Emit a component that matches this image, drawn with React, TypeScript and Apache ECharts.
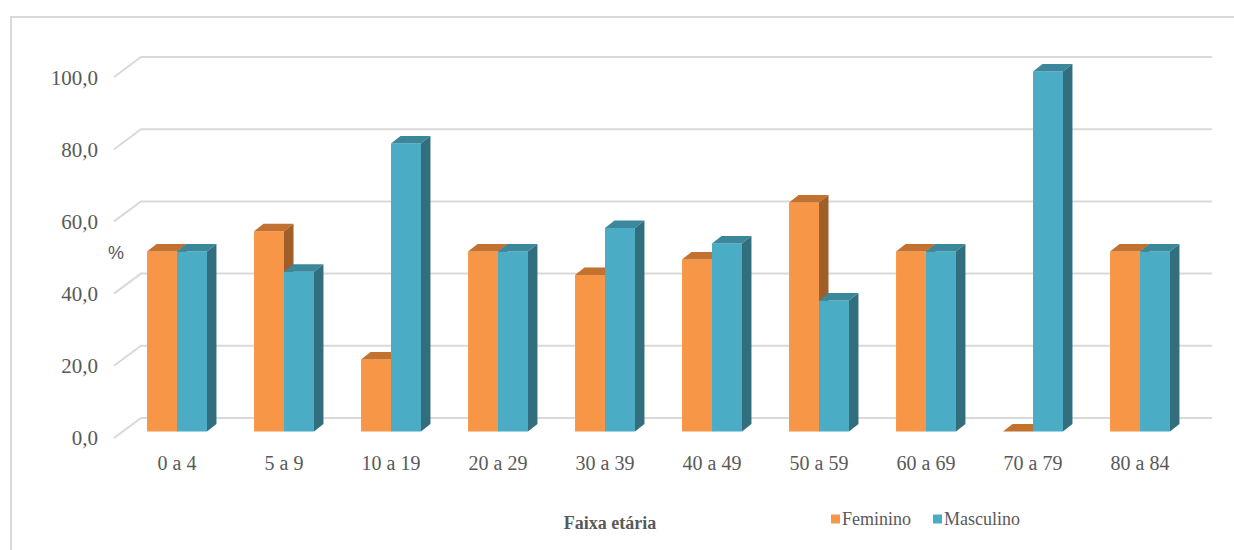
import React, { useEffect, useRef } from "react";
import * as echarts from "echarts";

const categories = ["0 a 4", "5 a 9", "10 a 19", "20 a 29", "30 a 39", "40 a 49", "50 a 59", "60 a 69", "70 a 79", "80 a 84"];
const feminino = [50, 55.6, 20, 50, 43.5, 47.8, 63.6, 50, 0, 50];
const masculino = [50, 44.4, 80, 50, 56.5, 52.2, 36.4, 50, 100, 50];
const yTicks = [0, 20, 40, 60, 80, 100];

const FONT = "'Liberation Serif', 'Times New Roman', serif";
const TEXT = "#595959";
const GRID_LINE = "#D9D9D9";

function makeBar(left: boolean, front: string, top: string, sideC: string) {
  return (params: any, api: any) => {
    const idx = api.value(0);
    const v = api.value(1);
    const pTop = api.coord([idx, v]);
    const p0 = api.coord([idx, 0]);
    const bw = api.size([1, 0])[0] * 0.28;
    const cx = pTop[0];
    const yTop = pTop[1];
    const y0 = p0[1];
    const x0 = left ? cx - bw : cx;
    const x1 = x0 + bw;
    const dx = 9.5;
    const dy = 7.5;
    return {
      type: "group",
      children: [
        { type: "polygon", shape: { points: [[x0, yTop], [x1, yTop], [x1, y0], [x0, y0]] }, style: { fill: front } },
        { type: "polygon", shape: { points: [[x0, yTop], [x0 + dx, yTop - dy], [x1 + dx, yTop - dy], [x1, yTop]] }, style: { fill: top } },
        { type: "polygon", shape: { points: [[x1, yTop], [x1 + dx, yTop - dy], [x1 + dx, y0 - dy], [x1, y0]] }, style: { fill: sideC } },
      ],
    };
  };
}

export default function App() {
  const ref = useRef<HTMLDivElement>(null);
  useEffect(() => {
    if (!ref.current) return;
    const chart = echarts.init(ref.current, undefined, { renderer: "svg" });
    const option: any = {
      animation: false,
      backgroundColor: "#ffffff",
      textStyle: { fontFamily: FONT, color: TEXT },
      grid: [
        // bar front plane
        { left: 123.5, top: 71.5, width: 1070, height: 360 },
        // back wall (gridlines)
        { left: 141, top: 57, width: 1071, height: 361 },
        // front floor edge (value labels)
        { left: 114, top: 78, width: 1070, height: 360 },
      ],
      xAxis: [
        {
          gridIndex: 0,
          type: "category",
          data: categories,
          axisLine: { show: false },
          axisTick: { show: false },
          axisLabel: { fontFamily: FONT, fontSize: 20, color: TEXT, margin: 21 },
        },
        { gridIndex: 1, type: "value", min: 0, max: 1, show: false },
        { gridIndex: 2, type: "value", min: 0, max: 1, show: false },
      ],
      yAxis: [
        { gridIndex: 0, type: "value", min: 0, max: 100, show: false },
        { gridIndex: 1, type: "value", min: 0, max: 100, interval: 20, show: false },
        {
          gridIndex: 2,
          type: "value",
          min: 0,
          max: 100,
          interval: 20,
          axisLine: { show: false },
          axisTick: { show: false },
          splitLine: { show: false },
          axisLabel: {
            fontFamily: FONT,
            fontSize: 21,
            color: TEXT,
            margin: 16,
            formatter: (v: number) => v.toFixed(1).replace(".", ","),
          },
        },
      ],
      legend: {
        left: 826,
        top: 505,
        icon: "rect",
        itemWidth: 9,
        itemHeight: 9,
        itemGap: 22,
        textStyle: { fontFamily: FONT, fontSize: 18, color: TEXT, padding: [0, 0, 0, -3] },
        data: ["Feminino", "Masculino"],
      },
      graphic: [
        {
          type: "rect",
          z: -10,
          shape: { x: 11, y: 17, width: 1400, height: 700 },
          style: { fill: "none", stroke: GRID_LINE, lineWidth: 2 },
        },
        {
          type: "text",
          x: 610,
          y: 523,
          style: {
            text: "Faixa etária",
            fontFamily: FONT,
            fontSize: 18,
            fontWeight: "bold",
            fill: TEXT,
            align: "center",
            verticalAlign: "middle",
          },
        },
        {
          type: "text",
          x: 116,
          y: 253,
          style: {
            text: "%",
            fontFamily: "'Liberation Sans', Arial, sans-serif",
            fontSize: 18,
            fill: TEXT,
            align: "center",
            verticalAlign: "middle",
          },
        },
      ],
      series: [
        {
          type: "custom",
          name: "gridlines",
          xAxisIndex: 1,
          yAxisIndex: 1,
          z: 1,
          silent: true,
          data: yTicks.map((t) => [0, t]),
          renderItem: (params: any, api: any) => {
            const v = api.value(1);
            const a = api.coord([0, v]);
            const b = api.coord([1, v]);
            return {
              type: "polyline",
              shape: { points: [[a[0] - 27, a[1] + 20], [a[0], a[1]], [b[0], b[1]]] },
              style: { stroke: GRID_LINE, lineWidth: 2, fill: "none" },
            };
          },
        },
        {
          type: "custom",
          name: "Feminino",
          xAxisIndex: 0,
          yAxisIndex: 0,
          z: 5,
          itemStyle: { color: "#F79646" },
          data: categories.map((c, i) => [i, feminino[i]]),
          renderItem: makeBar(true, "#F79646", "#C2712F", "#A05E28"),
        },
        {
          type: "custom",
          name: "Masculino",
          xAxisIndex: 0,
          yAxisIndex: 0,
          z: 6,
          itemStyle: { color: "#4BACC6" },
          data: categories.map((c, i) => [i, masculino[i]]),
          renderItem: makeBar(false, "#4BACC6", "#3B879B", "#316E7E"),
        },
      ],
    };
    chart.setOption(option);
    return () => chart.dispose();
  }, []);
  return (
    <div
      ref={ref}
      style={{ position: "fixed", left: 0, top: 0, width: 1234, height: 550, background: "#fff" }}
    />
  );
}
